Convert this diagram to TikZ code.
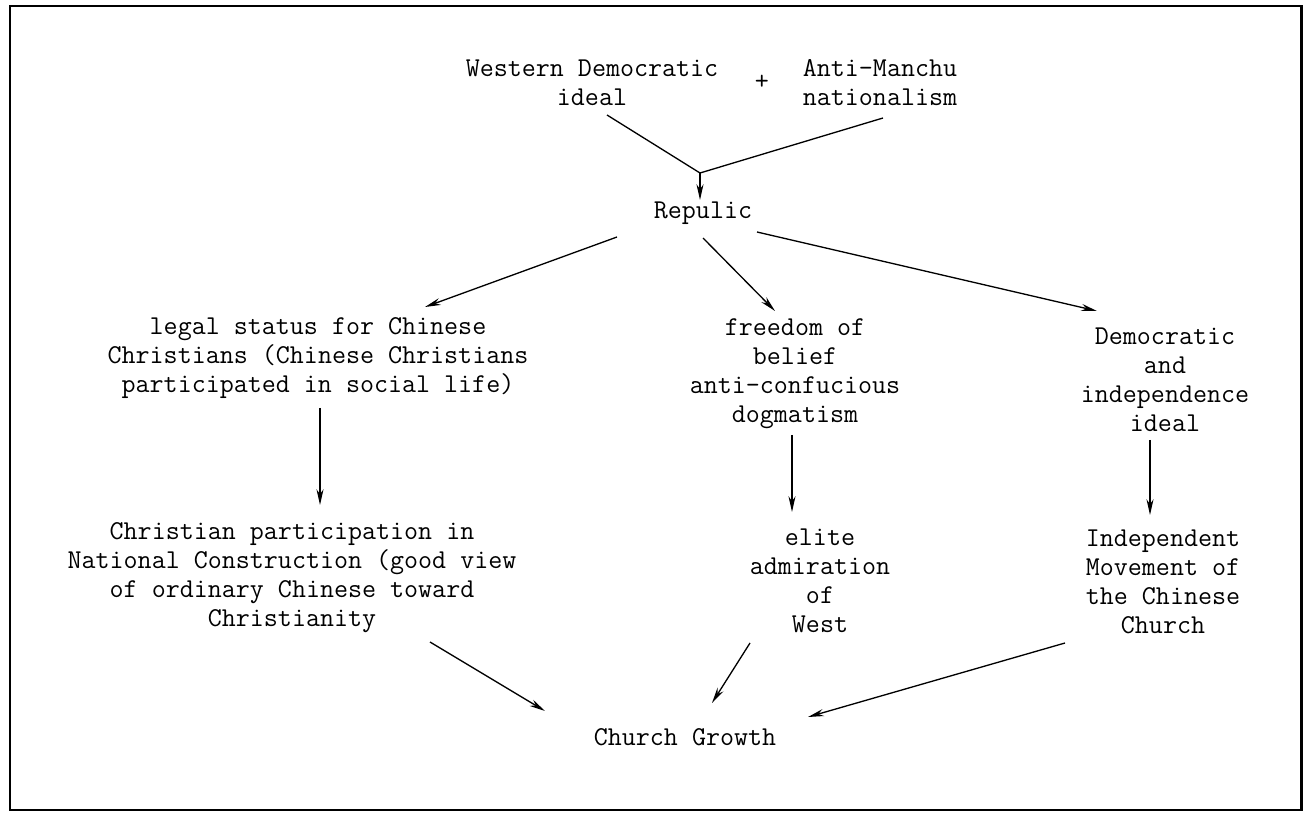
\documentclass[tikz,border=0pt]{standalone}
\usetikzlibrary{arrows.meta,calc}
\tikzset{
	txt/.style={align=center,inner sep=1pt,font=\fontsize{15.5}{16.5}\ttfamily},
	arr/.style={-{Stealth[length=9pt,width=4pt]},line width=0.75pt},
	ln/.style={line width=0.75pt}
}
\begin{document}
\begin{tikzpicture}[x=0.02cm,y=-0.02cm]
		\useasboundingbox(0,0)rectangle(1309,817);
		\draw[line width=1.7pt](10,6)rectangle(1301,810);
		\node[txt](west)at(592,83){Western Democratic\\ideal};
		\node[txt](plus)at(762,82){+};
		\node[txt](anti)at(880,83){Anti-Manchu\\nationalism};
		\coordinate(join)at(700,173);
		\node[txt](rep)at(703,213){Repulic};
		\node[txt](legal)at(318,358){legal status for Chinese\\Christians (Chinese Christians\\participated in social life)};
		\node[txt](freedom)at(795,374){freedom of\\belief\\anti-confucious\\dogmatism};
		\node[txt](demo)at(1165,380){Democratic\\and\\independence\\ideal};
		\node[txt](christ)at(292,578){Christian participation in\\National Construction (good view\\of ordinary Chinese toward\\Christianity};
		\node[txt](elite)at(820,581){elite\\admiration\\of\\West};
		\node[txt](indep)at(1163,582){Independent\\Movement of\\the Chinese\\Church};
		\node[txt](growth)at(685,737){Church Growth};
		\draw[ln]($(west)+(15,32)$)--(join)--($(anti)+(3,35)$);
		\draw[arr](join)--($(rep)+(-3,-13)$);
		\draw[arr]($(rep)+(-86,24)$)--($(legal)+(107,-51)$);
		\draw[arr]($(rep)+(0,25)$)--($(freedom)+(-20,-63)$);
		\draw[arr]($(rep)+(54,19)$)--($(demo)+(-68,-69)$);
		\draw[arr]($(legal)+(2,50)$)--($(christ)+(28,-73)$);
		\draw[arr]($(freedom)+(-3,61)$)--($(elite)+(-28,-69)$);
		\draw[arr]($(demo)+(-15,60)$)--($(indep)+(-13,-67)$);
		\draw[arr]($(christ)+(138,64)$)--($(growth)+(-140,-26)$);
		\draw[arr]($(elite)+(-70,62)$)--($(growth)+(27,-34)$);
		\draw[arr]($(indep)+(-98,61)$)--($(growth)+(123,-20)$);
	\end{tikzpicture}
\end{document}
